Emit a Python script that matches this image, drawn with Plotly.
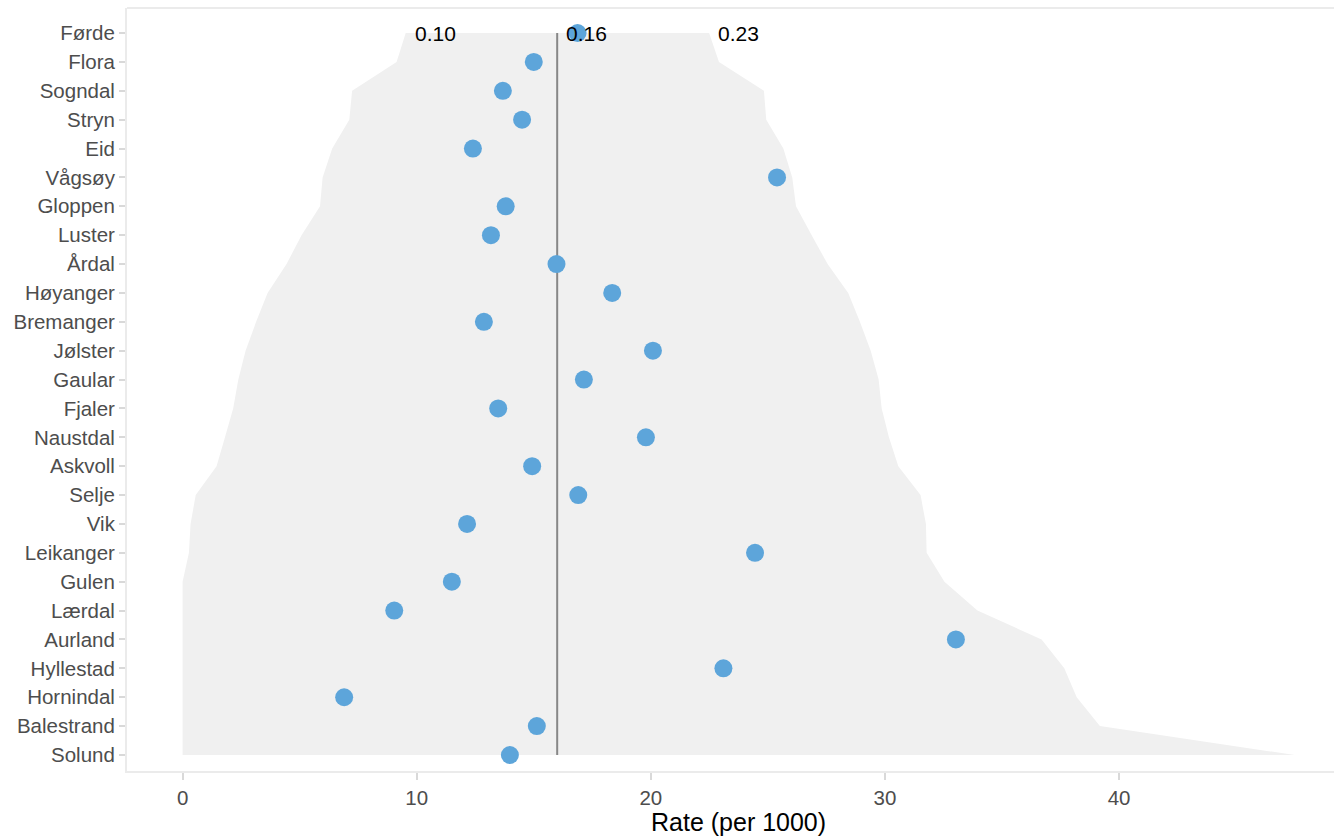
import plotly.graph_objects as go

# Categories, top to bottom as shown
municipalities = ["Førde", "Flora", "Sogndal", "Stryn", "Eid", "Vågsøy", "Gloppen", "Luster",
                  "Årdal", "Høyanger", "Bremanger", "Jølster", "Gaular", "Fjaler", "Naustdal",
                  "Askvoll", "Selje", "Vik", "Leikanger", "Gulen", "Lærdal", "Aurland",
                  "Hyllestad", "Hornindal", "Balestrand", "Solund"]

# Observed rate (per 1000)
rate = [16.87, 15.0, 13.68, 14.5, 12.4, 25.39, 13.8, 13.17, 15.97, 18.35, 12.87, 20.09,
        17.14, 13.48, 19.79, 14.93, 16.9, 12.15, 24.45, 11.5, 9.04, 33.03, 23.1, 6.9,
        15.13, 13.98]

# Funnel control limits (per 1000)
lower_limit = [9.53, 9.14, 7.24, 7.12, 6.39, 5.98, 5.87, 5.08, 4.44, 3.63, 3.14, 2.69,
               2.38, 2.16, 1.81, 1.45, 0.56, 0.34, 0.27, 0.0, 0.0, 0.0, 0.0, 0.0, 0.0, 0.0]
upper_limit = [22.49, 22.91, 24.83, 24.93, 25.66, 26.04, 26.2, 26.87, 27.55, 28.43, 28.93,
               29.39, 29.73, 29.86, 30.17, 30.57, 31.52, 31.75, 31.78, 32.54, 33.95, 36.69,
               37.66, 38.19, 39.18, 47.5]

mean_rate = 16.0
limit_labels = ["0.10", "0.16", "0.23"]

FONT = "Liberation Sans, Arial, sans-serif"

fig = go.Figure()

# Funnel band
fig.add_trace(go.Scatter(
    x=lower_limit + upper_limit[::-1],
    y=municipalities + municipalities[::-1],
    fill="toself", fillcolor="#f0f0f0", mode="lines",
    line=dict(width=0, color="#f0f0f0"), hoverinfo="skip", showlegend=False))

# Mean line
fig.add_trace(go.Scatter(
    x=[mean_rate, mean_rate], y=[municipalities[-1], municipalities[0]],
    mode="lines", line=dict(color="#878787", width=2), showlegend=False))

# Points
fig.add_trace(go.Scatter(
    x=rate, y=municipalities, mode="markers",
    marker=dict(color="#5DA5DA", size=18, line=dict(width=0)), showlegend=False))

# Limit labels at top row
for xv, txt in zip([lower_limit[0], mean_rate, upper_limit[0]], limit_labels):
    fig.add_annotation(x=xv, y=municipalities[0], text=txt, showarrow=False,
                       xanchor="left", yanchor="middle", xshift=7,
                       font=dict(family=FONT, size=21, color="black"))

# Axis title
fig.add_annotation(x=0.5066, y=0, xref="paper", yref="paper", yshift=-51,
                   text="Rate (per 1000)", showarrow=False, xanchor="center", yanchor="middle",
                   font=dict(family=FONT, size=25, color="black"))

# Top border
fig.add_shape(type="line", xref="paper", yref="paper", x0=0, x1=1, y0=1, y1=1,
              line=dict(color="#ebebeb", width=2))

fig.update_layout(
    width=1334, height=837,
    margin=dict(l=127, r=0, t=8, b=66),
    plot_bgcolor="white", paper_bgcolor="white",
    font=dict(family=FONT),
    showlegend=False,
    xaxis=dict(range=[-2.375, 49.18], tickvals=[0, 10, 20, 30, 40], showgrid=False,
               zeroline=False, showline=True, linecolor="#ebebeb", linewidth=2,
               ticks="outside", ticklen=7, tickwidth=2, tickcolor="#d9d9d9",
               tickfont=dict(family=FONT, size=20.5, color="#4d4d4d")),
    yaxis=dict(type="category", categoryorder="array", categoryarray=municipalities[::-1],
               range=[-0.554, 25.866], showgrid=False, zeroline=False,
               showline=True, linecolor="#ebebeb", linewidth=2,
               ticks="outside", ticklen=6, tickwidth=2, tickcolor="#d9d9d9",
               tickfont=dict(family=FONT, size=20.5, color="#4d4d4d")),
)

fig.write_html("out.html", config={"displayModeBar": False},
               post_script="document.body.style.margin='0px';")
